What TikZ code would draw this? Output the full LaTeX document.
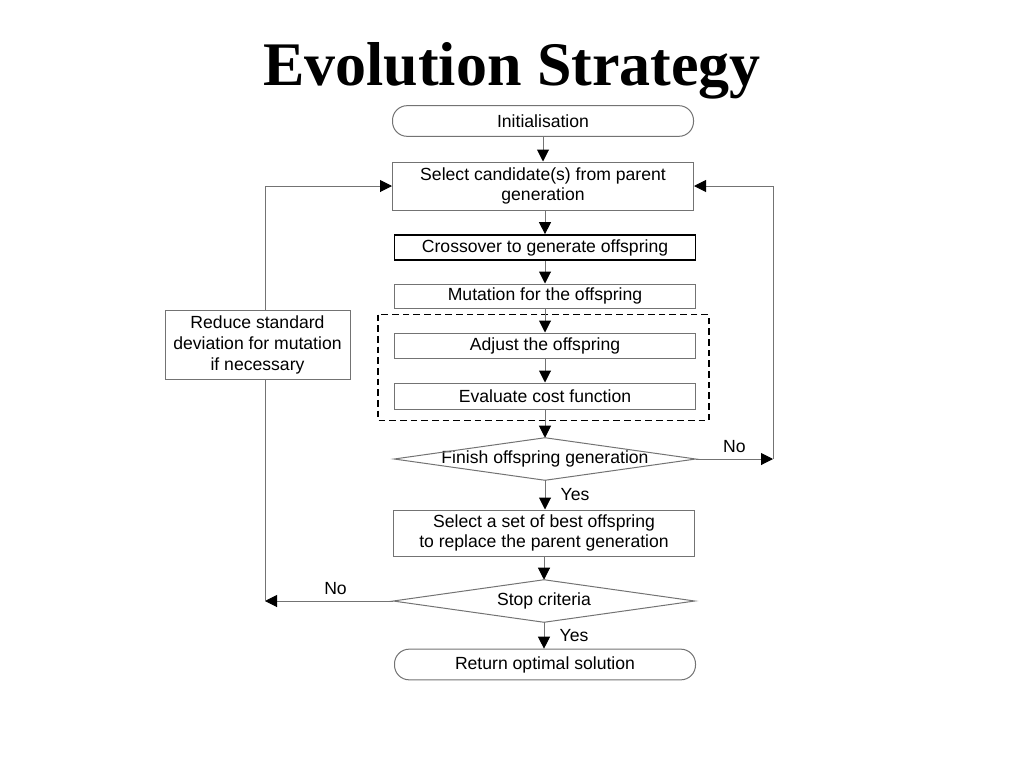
\documentclass[tikz,border=0pt]{standalone}
\usepackage{fontspec}
\setmainfont{Liberation Sans}
\newfontfamily\titlefont{Liberation Serif}
\usetikzlibrary{arrows.meta,positioning,calc}

\begin{document}
\begin{tikzpicture}[x=0.75pt,y=-0.75pt,
  font=\fontsize{13.2}{15}\selectfont,
  line/.style={draw=black!55,line width=0.75pt},
  arr/.style={line,-{Triangle[length=9pt,width=9pt,color=black]}},
  proc/.style={line,rectangle,fill=white,minimum width=225.75pt,inner sep=1pt,align=center},
  term/.style={proc,rounded corners=11pt,minimum height=23pt},
  decide/.style={rectangle,minimum width=225.75pt,minimum height=31.5pt,inner sep=0pt}]
\useasboundingbox (0,0) rectangle (1024,768);
\def\px{0.75pt}
% title
\node[anchor=base,font=\titlefont\bfseries\fontsize{46.5}{50}\selectfont] (title) at (512,85) {Evolution Strategy};
% main column
\node[term] (init) at (543,121) {Initialisation};
\node[proc,minimum height=48*\px] (sel) at (543,186) {Select candidate(s) from parent\\generation};
\node[proc,draw=black,line width=1.3pt,minimum height=25*\px] (cross) at (545,247.5) {Crossover to generate offspring};
\node[proc,minimum height=24*\px] (mut) at (545,296) {Mutation for the offspring};
\node[proc,minimum height=25*\px] (adj) at (545,345.5) {Adjust the offspring};
\node[proc,minimum height=26*\px] (eval) at (545,396) {Evaluate cost function};
\node[decide] (fin) at (545,459) {Finish offspring generation};
\node[proc,minimum height=46*\px] (best) at (544,533) {Select a set of best offspring\\to replace the parent generation};
\node[decide] (stop) at (544,601) {Stop criteria};
\node[term] (ret) at (545,664.5) {Return optimal solution};
\foreach \d in {fin,stop}
  \draw[line] (\d.west) -- (\d.north) -- (\d.east) -- (\d.south) -- cycle;
% group around adjust / evaluate
\draw[line width=1pt,dash pattern=on 5pt off 3pt] ($(adj.north west)+(-16,-18)$) rectangle ($(eval.south east)+(13,11)$);
% forward flow
\draw[arr] (init.south) -- (init.south |- sel.north);
\draw[arr] (sel.south -| cross.north) -- (cross.north);
\draw[arr] (cross) -- (mut);
\draw[arr] (mut) -- (adj);
\draw[arr] (adj) -- (eval);
\draw[arr] (eval) -- (fin);
\draw[arr] (fin.south) -- (fin.south |- best.north) node[midway,right=8pt] {Yes};
\draw[arr] (best) -- (stop);
\draw[arr] (stop.south) -- (stop.south |- ret.north) node[midway,right=8pt] {Yes};
% loops back to selection
\coordinate (lc) at (265,601);
\coordinate (lt) at (265,186);
\coordinate (rc) at (773,459);
\coordinate (rt) at (773,186);
\draw[arr] (stop.west) -- (lc) node[pos=0.45,above=1pt] {No};
\draw[arr] (lc) -- (lt) -- (sel.west);
\draw[arr] (fin.east) -- (rc) node[pos=0.5,above=1pt] {No};
\draw[arr] (rc) -- (rt) -- (sel.east);
\node[proc,minimum width=185*\px,minimum height=69*\px,font=\fontsize{13.2}{15.75}\selectfont] (reduce) at (257.5,344.5) {Reduce standard\\deviation for mutation\\if necessary};
\end{tikzpicture}
\end{document}
